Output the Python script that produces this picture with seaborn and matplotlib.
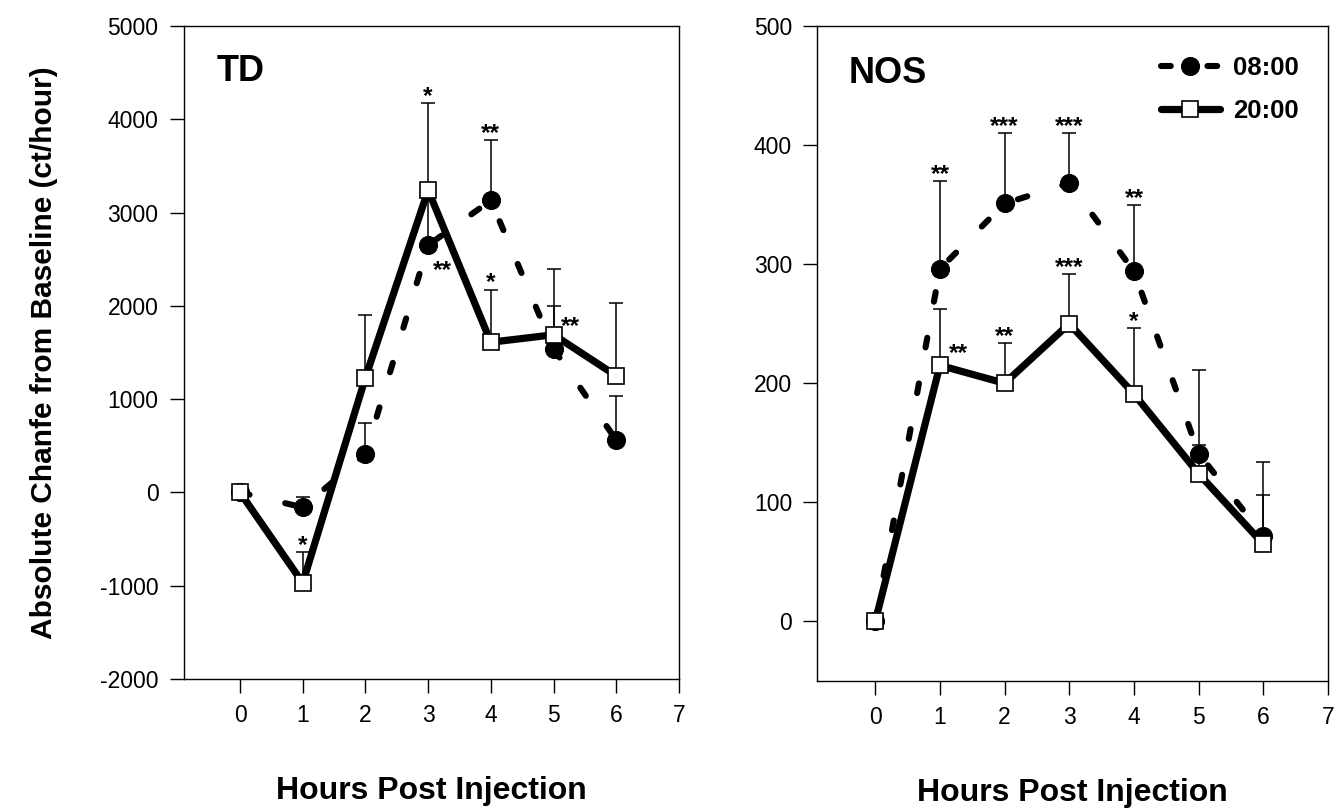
import numpy as np
import pandas as pd
import matplotlib
matplotlib.use("Agg")
import matplotlib.pyplot as plt
import seaborn as sns

# ---------------- data ----------------
hours = [0, 1, 2, 3, 4, 5, 6]

td_0800 = [0, -160, 410, 2650, 3130, 1540, 560]
td_0800_err = [0, 110, 330, 590, 650, 460, 475]
td_2000 = [0, -970, 1230, 3240, 1610, 1690, 1250]
td_2000_err = [0, 330, 675, 930, 565, 710, 780]

nos_0800 = [0, 296, 351, 368, 294, 141, 72]
nos_0800_err = [0, 74, 59, 42, 56, 70, 62]
nos_2000 = [0, 215, 200, 250, 191, 124, 65]
nos_2000_err = [0, 47, 34, 42, 55, 24, 41]

# significance marks: (hour, text, placement)
td_0800_stars = [(3, "**", "below_right"), (4, "**", "top")]
td_2000_stars = [(1, "*", "top"), (3, "*", "top"), (4, "*", "top"), (5, "**", "right")]
nos_0800_stars = [(1, "**", "top"), (2, "***", "top"), (3, "***", "top"), (4, "**", "top")]
nos_2000_stars = [(1, "**", "right_up"), (2, "**", "top"), (3, "***", "top"), (4, "*", "top")]

series_labels = ["08:00", "20:00"]
td_yticks = [-2000, -1000, 0, 1000, 2000, 3000, 4000, 5000]
nos_yticks = [0, 100, 200, 300, 400, 500]
xticks = [0, 1, 2, 3, 4, 5, 6, 7]

# ---------------- style ----------------
sns.set_style("ticks")
plt.rcParams["font.family"] = ["Liberation Sans", "DejaVu Sans"]
plt.rcParams["text.color"] = "black"
plt.rcParams["axes.labelcolor"] = "black"
plt.rcParams["xtick.color"] = "black"
plt.rcParams["ytick.color"] = "black"

fig = plt.figure(figsize=(13.35, 8.09), dpi=100)
axL = fig.add_axes([0.1375, 0.1607, 0.3711, 0.8072])
axR = fig.add_axes([0.6120, 0.1582, 0.3828, 0.8097])

DASH_LW = 4.4
SOLID_LW = 5.2
STAR_FS = 17.5

offsets = {
    "below_right": (10, -23),
    "right": (12, 1),
    "right_up": (13.5, 4),
}


def draw_panel(ax, v8, e8, v20, e20, st8, st20):
    df8 = pd.DataFrame({"hour": hours, "value": v8})
    df20 = pd.DataFrame({"hour": hours, "value": v20})
    h = np.array(hours)
    for vals, errs in ((v8, e8), (v20, e20)):
        vals = np.array(vals, float)
        errs = np.array(errs, float)
        m = errs > 0
        ax.errorbar(h[m], vals[m], yerr=[np.zeros(m.sum()), errs[m]], fmt="none",
                    ecolor="black", elinewidth=1.1, capsize=5, capthick=1.1, zorder=1)
    sns.lineplot(data=df8, x="hour", y="value", ax=ax, color="black",
                 linewidth=DASH_LW, linestyle=(0, (1.6, 6.0)), dash_capstyle="round",
                 marker="o", markersize=13, markerfacecolor="black",
                 markeredgecolor="black", label=series_labels[0], zorder=2)
    sns.lineplot(data=df20, x="hour", y="value", ax=ax, color="black",
                 linewidth=SOLID_LW, linestyle="-", marker="s", markersize=11,
                 markerfacecolor="white", markeredgecolor="black",
                 markeredgewidth=1.2, label=series_labels[1], zorder=3)

    for stars, vals, errs in ((st8, v8, e8), (st20, v20, e20)):
        for hr, txt, place in stars:
            i = hours.index(hr)
            if place == "top":
                ax.annotate(txt, (hr, vals[i] + errs[i]), xytext=(0, 0),
                            textcoords="offset points", ha="center", va="baseline",
                            fontsize=STAR_FS, fontweight="bold", zorder=5)
            else:
                ax.annotate(txt, (hr, vals[i]), xytext=offsets[place],
                            textcoords="offset points", ha="center", va="baseline",
                            fontsize=STAR_FS, fontweight="bold", zorder=5)

    ax.set_xlim(-0.9, 7)
    ax.set_xticks(xticks)
    ax.set_xticklabels([str(t) for t in xticks])
    for s in ax.spines.values():
        s.set_linewidth(1.0)
        s.set_color("black")
    ax.tick_params(axis="both", direction="out", length=10, width=1.0,
                   labelsize=16.5, colors="black", pad=8)
    ax.set_xlabel("Hours Post Injection", fontsize=23, fontweight="bold", labelpad=35)


draw_panel(axL, td_0800, td_0800_err, td_2000, td_2000_err, td_0800_stars, td_2000_stars)
axL.set_ylim(-2000, 5000)
axL.set_yticks(td_yticks)
axL.set_yticklabels([str(t) for t in td_yticks])
axL.set_ylabel("Absolute Chanfe from Baseline (ct/hour)", fontsize=21.5,
               fontweight="bold", labelpad=30)
axL.text(0.067, 0.9155, "TD", transform=axL.transAxes, ha="left", va="baseline",
         fontsize=26, fontweight="bold")
axL.get_legend().remove()

draw_panel(axR, nos_0800, nos_0800_err, nos_2000, nos_2000_err, nos_0800_stars, nos_2000_stars)
axR.set_ylim(-50, 500)
axR.set_yticks(nos_yticks)
axR.set_yticklabels([str(t) for t in nos_yticks])
axR.set_ylabel("")
axR.text(0.061, 0.9127, "NOS", transform=axR.transAxes, ha="left", va="baseline",
         fontsize=26, fontweight="bold")
handles, labels = axR.get_legend_handles_labels()
axR.legend(handles, labels, loc="upper right", frameon=False,
           prop={"weight": "bold", "size": 18.5}, handlelength=2.3,
           handletextpad=0.5, labelspacing=0.75, borderpad=0.4, borderaxespad=0.75)

fig.savefig("out.png", dpi=100)
